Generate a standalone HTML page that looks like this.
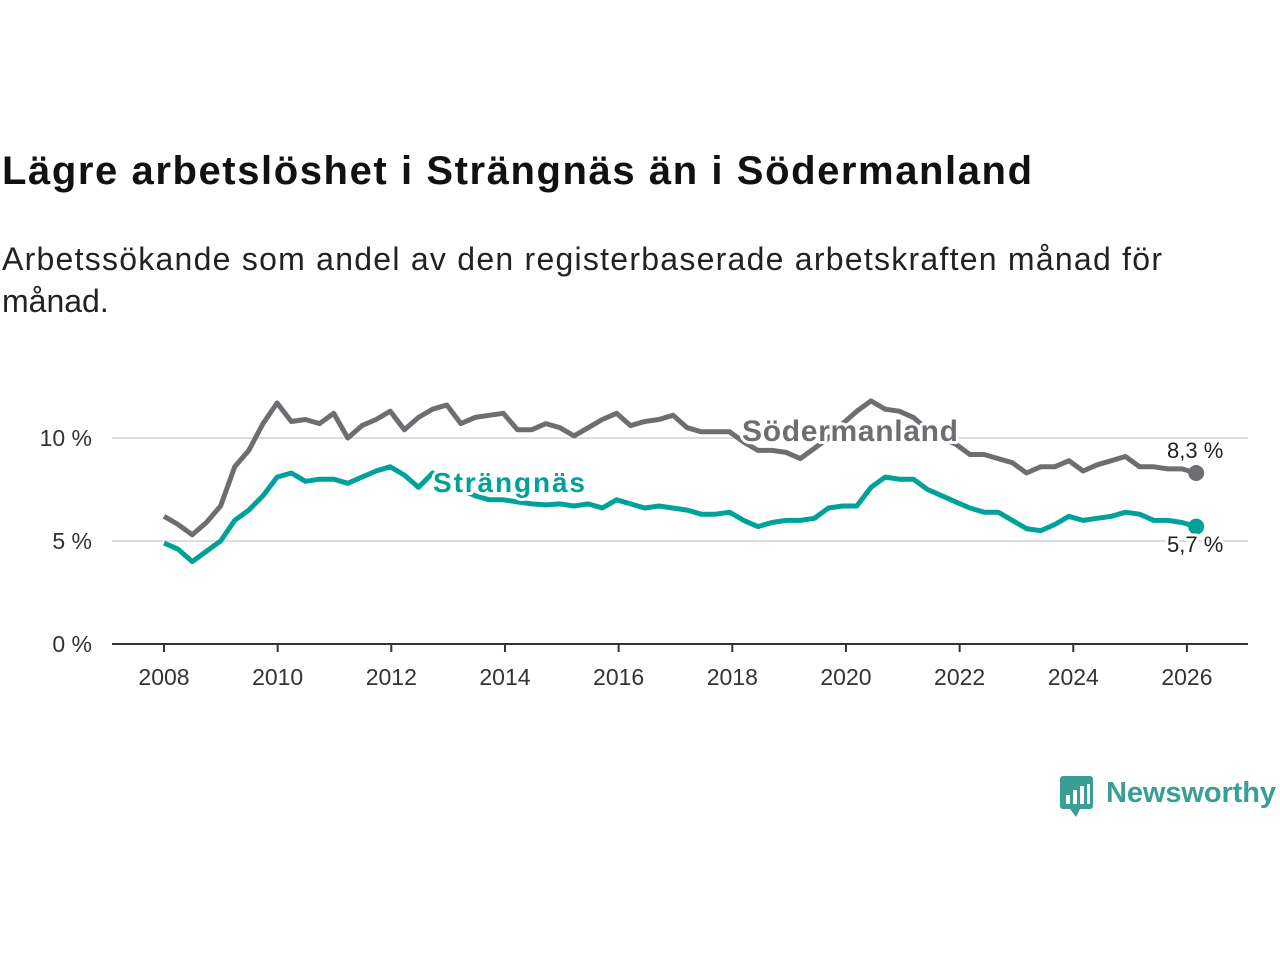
<!DOCTYPE html>
<html><head><meta charset="utf-8">
<style>
body{margin:0;width:1280px;height:960px;background:#fff;font-family:"Liberation Sans",sans-serif;overflow:hidden}
</style></head><body>
<svg width="1280" height="960">
<text x="2" y="184" font-size="40" font-weight="bold" fill="#111" textLength="1030">Lägre arbetslöshet i Strängnäs än i Södermanland</text>
<text x="2" y="270" font-size="32" fill="#222" textLength="1160">Arbetssökande som andel av den registerbaserade arbetskraften månad för</text>
<text x="2" y="312" font-size="32" fill="#222">månad.</text>
<g id="grid"></g><g id="lines"></g>
<g>
<rect x="1060" y="776" width="33" height="33" rx="3" fill="#3a9e94"/>
<path d="M1070 809 L1076 817 L1080 809Z" fill="#3a9e94"/>
<rect x="1066" y="795" width="4" height="9" fill="#fff"/><rect x="1073" y="790" width="4" height="14" fill="#fff"/><rect x="1080" y="786" width="4" height="18" fill="#fff"/><rect x="1087" y="784" width="3" height="20" fill="#fff"/>
<text x="1106" y="802" font-size="29" fill="#3a9e94" font-weight="bold" textLength="170">Newsworthy</text>
</g>
</svg>
<script>
const years=[2008,2010,2012,2014,2016,2018,2020,2022,2024,2026];
const yTicks=[0,5,10];
const start=2008, step=0.2488;
const sodermanland=[6.2,5.8,5.3,5.9,6.7,8.6,9.4,10.7,11.7,10.8,10.9,10.7,11.2,10.0,10.6,10.9,11.3,10.4,11.0,11.4,11.6,10.7,11.0,11.1,11.2,10.4,10.4,10.7,10.5,10.1,10.5,10.9,11.2,10.6,10.8,10.9,11.1,10.5,10.3,10.3,10.3,9.8,9.4,9.4,9.3,9.0,9.5,10.0,10.7,11.3,11.8,11.4,11.3,11.0,10.4,10.0,9.7,9.2,9.2,9.0,8.8,8.3,8.6,8.6,8.9,8.4,8.7,8.9,9.1,8.6,8.6,8.5,8.5,8.3];
const strangnas=[4.9,4.6,4.0,4.5,5.0,6.0,6.5,7.2,8.1,8.3,7.9,8.0,8.0,7.8,8.1,8.4,8.6,8.2,7.6,8.3,7.8,7.5,7.2,7.0,7.0,6.9,6.8,6.75,6.8,6.7,6.8,6.6,7.0,6.8,6.6,6.7,6.6,6.5,6.3,6.3,6.4,6.0,5.7,5.9,6.0,6.0,6.1,6.6,6.7,6.7,7.6,8.1,8.0,8.0,7.5,7.2,6.9,6.6,6.4,6.4,6.0,5.6,5.5,5.8,6.2,6.0,6.1,6.2,6.4,6.3,6.0,6.0,5.9,5.7];
const X=t=>164+(t-2008)*56.83, Y=v=>644-v*20.6;
const ns="http://www.w3.org/2000/svg";
const g=document.getElementById('grid'), L=document.getElementById('lines');
function mk(tag,attrs,parent){const e=document.createElementNS(ns,tag);for(const k in attrs)e.setAttribute(k,attrs[k]);parent.appendChild(e);return e;}
yTicks.forEach(v=>{
 if(v>0){const l=mk('line',{x1:112,x2:1248,y1:Y(v),y2:Y(v),stroke:'#ddd','stroke-width':2},g);
 
 }
 const t=mk('text',{x:92,y:Y(v)+8,'font-size':23,'text-anchor':'end',fill:'#333'},g);t.textContent=v+' %';
 
 
});
const ax=mk('line',{x1:112,x2:1248,y1:644,y2:644,stroke:'#333','stroke-width':2},g);


years.forEach(y=>{
 mk('line',{x1:X(y),x2:X(y),y1:644,y2:652,stroke:'#333','stroke-width':2},g);
 const t=mk('text',{x:X(y),y:685,'font-size':23,'text-anchor':'middle',fill:'#333'},g);t.textContent=y;
 
 
});
function series(arr,col,name){
 const d=arr.map((v,i)=>(i?'L':'M')+X(start+i*step).toFixed(1)+' '+Y(v).toFixed(1)).join(' ');
 const p=mk('path',{d:d,fill:'none',stroke:col,'stroke-width':5,'stroke-linejoin':'round'},L);
 
 
 const n=arr.length-1;
 const c=mk('circle',{cx:X(start+n*step),cy:Y(arr[n]),r:8,fill:col},L);
 
 
}
series(sodermanland,'#6e6d72','sodermanland');
series(strangnas,'#00a19a','strangnas');
function label(x,y,txt,col,size,weight,name,len){
 const t=mk('text',{x:x,y:y,'font-size':size,'font-weight':weight,fill:col,stroke:'#fff','stroke-width':6,'paint-order':'stroke','stroke-linejoin':'round'},L);
 if(len)t.setAttribute('textLength',len);
 t.textContent=txt;
 
 
}
label(742,441,'Södermanland','#6e6d72',30,'bold','sodermanland-label',216);
label(433,492,'Strängnäs','#00a19a',28,'bold','strangnas-label',152);
label(1167,458,'8,3 %','#222',22,'normal','sodermanland-value');
label(1167,552,'5,7 %','#222',22,'normal','strangnas-value');
</script>
</body></html>
